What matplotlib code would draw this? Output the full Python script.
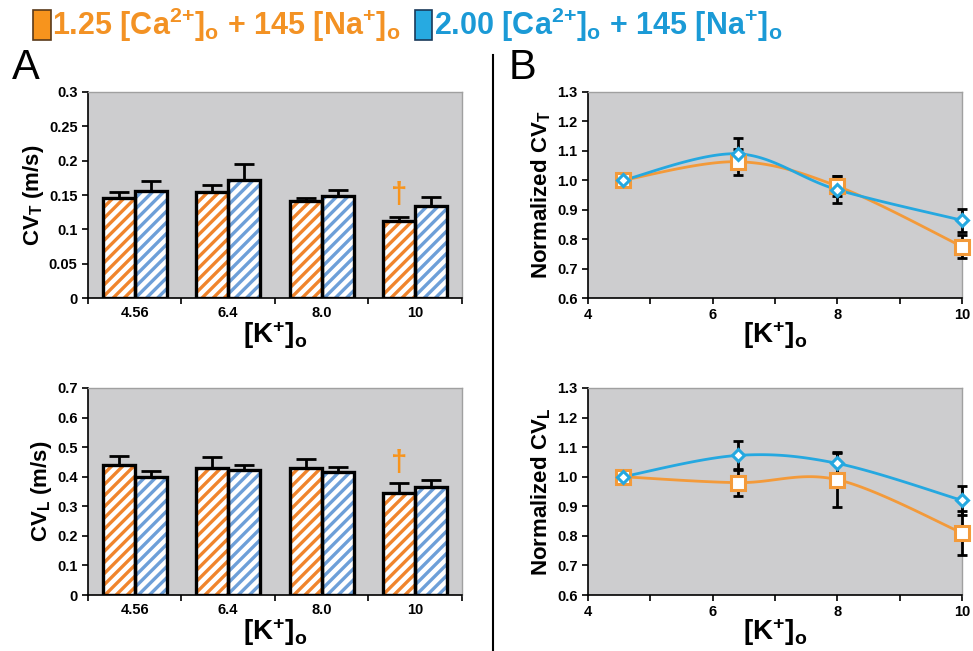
import numpy as np
import matplotlib
matplotlib.use("Agg")
import matplotlib.pyplot as plt
from matplotlib.patches import Rectangle
from matplotlib.lines import Line2D

# font setup: bold sans for everything, mathtext uses the same font
plt.rcParams['font.family'] = ['Liberation Sans', 'DejaVu Sans']
plt.rcParams['font.weight'] = 'bold'
plt.rcParams['axes.labelweight'] = 'bold'
plt.rcParams['mathtext.fontset'] = 'custom'
plt.rcParams['mathtext.rm'] = 'Liberation Sans:bold'
plt.rcParams['mathtext.it'] = 'Liberation Sans:bold'
plt.rcParams['mathtext.bf'] = 'Liberation Sans:bold'
plt.rcParams['hatch.linewidth'] = 2.4

# ---------------- data ----------------
conc_labels = ['4.56', '6.4', '8.0', '10']
conc = [4.56, 6.4, 8.0, 10.0]

# panel A top: CV_T (m/s)
cvt_low = [0.145, 0.154, 0.141, 0.112]
cvt_low_err = [0.009, 0.010, 0.004, 0.006]
cvt_high = [0.156, 0.172, 0.149, 0.134]
cvt_high_err = [0.014, 0.023, 0.008, 0.013]

# panel A bottom: CV_L (m/s)
cvl_low = [0.440, 0.430, 0.430, 0.346]
cvl_low_err = [0.030, 0.035, 0.030, 0.034]
cvl_high = [0.400, 0.423, 0.415, 0.365]
cvl_high_err = [0.018, 0.017, 0.017, 0.025]

# panel B top: normalized CV_T
ncvt_low = [1.0, 1.063, 0.980, 0.775]
ncvt_low_err = [0.0, 0.044, 0.035, 0.040]
ncvt_high = [1.0, 1.090, 0.968, 0.864]
ncvt_high_err = [0.0, 0.052, 0.045, 0.040]

# panel B bottom: normalized CV_L
ncvl_low = [1.0, 0.980, 0.990, 0.810]
ncvl_low_err = [0.0, 0.046, 0.092, 0.075]
ncvl_high = [1.0, 1.072, 1.045, 0.920]
ncvl_high_err = [0.0, 0.050, 0.036, 0.050]

ORANGE_BAR = '#f0842c'
BLUE_BAR = '#6d9fd8'
ORANGE_LINE = '#f39a3a'
BLUE_LINE = '#25a8e0'
BG = '#cdcdcf'


def smooth(xd, yd, ax, n=40):
    # excel-like smoothed line (bezier through points, computed in axes space)
    x0, x1 = ax.get_xlim()
    y0, y1 = ax.get_ylim()
    sx = (x1 - x0)
    sy = (y1 - y0) * 0.55
    P = np.column_stack([(np.array(xd) - x0) / sx, (np.array(yd) - y0) / sy])
    P = np.vstack([P[0], P, P[-1]])
    out = []
    for i in range(1, len(P) - 2):
        p0, p3 = P[i], P[i + 1]
        c1 = p0 + (P[i + 1] - P[i - 1]) / 6.0
        c2 = p3 - (P[i + 2] - P[i]) / 6.0
        t = np.linspace(0, 1, n)[:, None]
        seg = (1 - t) ** 3 * p0 + 3 * (1 - t) ** 2 * t * c1 + 3 * (1 - t) * t ** 2 * c2 + t ** 3 * p3
        out.append(seg)
    out = np.vstack(out)
    return out[:, 0] * sx + x0, out[:, 1] * sy + y0


def style_axes(ax):
    ax.set_facecolor(BG)
    for s in ['top', 'right']:
        ax.spines[s].set_color('#a0a0a0')
        ax.spines[s].set_linewidth(1)
    for s in ['left', 'bottom']:
        ax.spines[s].set_color('black')
        ax.spines[s].set_linewidth(1.2)
    ax.tick_params(direction='out', length=4, width=1.2, labelsize=10.5)


def bar_panel(ax, low, low_err, high, high_err, ymax, ystep, ylabel, dagger_y):
    x = np.arange(len(conc_labels))
    w = 0.34
    for xs, vals, errs, col in ((x - w / 2, low, low_err, ORANGE_BAR),
                                (x + w / 2, high, high_err, BLUE_BAR)):
        ax.errorbar(xs, vals, yerr=[np.zeros(len(vals)), errs], fmt='none',
                    ecolor='black', elinewidth=2, capsize=7, capthick=2, zorder=1)
        ax.bar(xs, vals, w, color='white', edgecolor=col, hatch='///', linewidth=0, zorder=2)
        ax.bar(xs, vals, w, fill=False, edgecolor='black', linewidth=2.4, zorder=3)
    ax.set_xlim(-0.5, len(conc_labels) - 0.5)
    ax.set_ylim(0, ymax)
    ticks = np.arange(0, ymax + ystep / 2, ystep)
    ax.set_yticks(ticks)
    ax.set_yticklabels(['{:g}'.format(round(v, 3)) for v in ticks])
    ax.set_xticks(np.arange(-0.5, len(conc_labels)))
    ax.set_xticklabels([])
    ax.set_xticks(x, minor=True)
    ax.set_xticklabels(conc_labels, minor=True)
    style_axes(ax)
    ax.tick_params(axis='x', which='minor', length=0, pad=6, labelsize=10.5)
    ax.set_ylabel(ylabel, fontsize=16, labelpad=2)
    ax.set_xlabel(r'[K$^{+}$]$_{o}$', fontsize=20, labelpad=-1)
    ax.text(x[-1] - w / 2, dagger_y, '\u2020', color='#f7941d', fontsize=21,
            ha='center', va='center')


def line_panel(ax, low, low_err, high, high_err, ylabel):
    ax.set_xlim(4, 10)
    ax.set_ylim(0.6, 1.3)
    for vals, errs, col, mk, ms in ((low, low_err, ORANGE_LINE, 's', 10),
                                    (high, high_err, BLUE_LINE, 'D', 6.5)):
        xs, ys = smooth(conc, vals, ax)
        ax.plot(xs, ys, color=col, lw=2, zorder=2, clip_on=False)
        eb = ax.errorbar(conc, vals, yerr=errs, fmt='none', ecolor='black',
                         elinewidth=2, capsize=3.5, capthick=2, zorder=3)
        for art in eb.lines[1] + eb.lines[2]:
            art.set_clip_on(False)
        ax.plot(conc, vals, ls='none', marker=mk, ms=ms, mfc='white', mec=col,
                mew=2.2, zorder=4, clip_on=False)
    ax.set_xticks([4, 6, 8, 10])
    ax.set_xticks([5, 7, 9], minor=True)
    ticks = np.arange(0.6, 1.31, 0.1)
    ax.set_yticks(ticks)
    ax.set_yticklabels(['{:.1f}'.format(v) for v in ticks])
    style_axes(ax)
    ax.tick_params(axis='x', which='minor', direction='out', length=4, width=1.2)
    ax.set_ylabel(ylabel, fontsize=16, labelpad=3)
    ax.set_xlabel(r'[K$^{+}$]$_{o}$', fontsize=20, labelpad=-2)


fig = plt.figure(figsize=(9.73, 6.51), dpi=100)

ax1 = fig.add_axes([0.0904, 0.5422, 0.3844, 0.3165])
ax2 = fig.add_axes([0.0904, 0.0860, 0.3844, 0.3180])
ax3 = fig.add_axes([0.6043, 0.5422, 0.3844, 0.3165])
ax4 = fig.add_axes([0.6043, 0.0860, 0.3844, 0.3180])

bar_panel(ax1, cvt_low, cvt_low_err, cvt_high, cvt_high_err, 0.3, 0.05,
          r'CV$_{T}$ (m/s)', 0.150)
bar_panel(ax2, cvl_low, cvl_low_err, cvl_high, cvl_high_err, 0.7, 0.1,
          r'CV$_{L}$ (m/s)', 0.447)
line_panel(ax3, ncvt_low, ncvt_low_err, ncvt_high, ncvt_high_err, r'Normalized CV$_{T}$')
line_panel(ax4, ncvl_low, ncvl_low_err, ncvl_high, ncvl_high_err, r'Normalized CV$_{L}$')

# panel letters
fig.text(0.012, 0.895, 'A', fontsize=30, fontweight='normal', ha='left', va='center')
fig.text(0.523, 0.895, 'B', fontsize=30, fontweight='normal', ha='left', va='center')

# divider line
fig.add_artist(Line2D([0.5067, 0.5067], [0.0, 0.915], color='black', lw=1.5))

# legend at the top: square, text, square, text placed one after the other
fig.add_artist(Rectangle((0.034, 0.938), 0.018, 0.046, transform=fig.transFigure,
                         facecolor='#f7941d', edgecolor='#5a3a1a', lw=1.2))
t1 = fig.text(0.053, 0.962, r'1.25 [Ca$^{2{+}}$]$_{o}$ + 145 [Na$^{+}$]$_{o}$', color='#f39224',
              fontsize=22, ha='left', va='center')
fig.canvas.draw()
x_end = fig.transFigure.inverted().transform(t1.get_window_extent().get_points())[1, 0]
fig.add_artist(Rectangle((x_end + 0.015, 0.938), 0.018, 0.046, transform=fig.transFigure,
                         facecolor='#27aae1', edgecolor='#1a3a5a', lw=1.2))
fig.text(x_end + 0.035, 0.962, r'2.00 [Ca$^{2{+}}$]$_{o}$ + 145 [Na$^{+}$]$_{o}$', color='#1b9ad6',
         fontsize=22, ha='left', va='center')

fig.savefig('out.png', dpi=100)
